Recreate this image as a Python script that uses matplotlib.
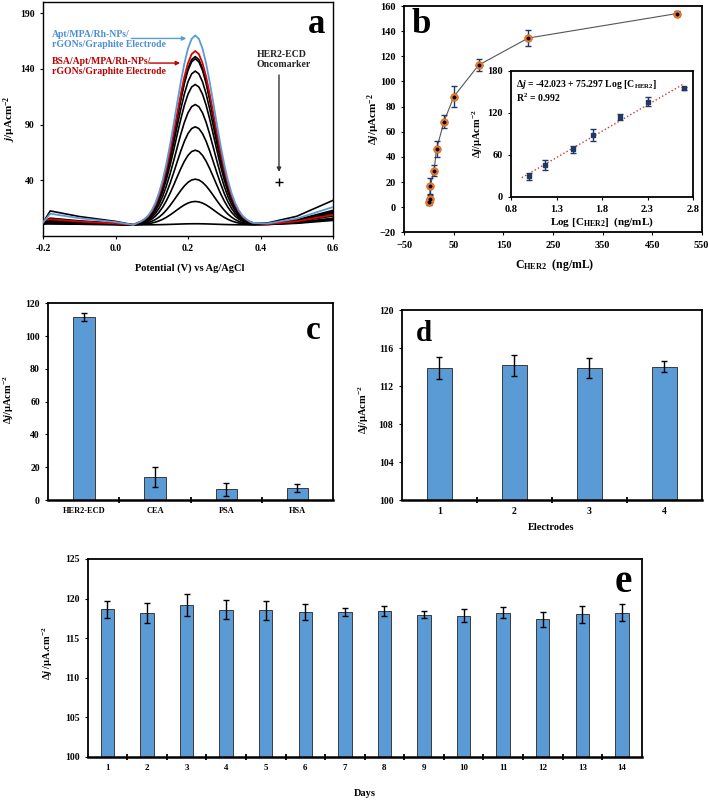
import numpy as np
import matplotlib
matplotlib.use("Agg")
import matplotlib.pyplot as plt

plt.rcParams['font.family'] = ['Liberation Serif', 'DejaVu Serif']
plt.rcParams['font.weight'] = 'bold'
plt.rcParams['axes.labelweight'] = 'bold'
plt.rcParams['mathtext.fontset'] = 'custom'
plt.rcParams['mathtext.rm'] = 'Liberation Serif:bold'
plt.rcParams['mathtext.it'] = 'Liberation Serif:bold:italic'
plt.rcParams['mathtext.bf'] = 'Liberation Serif:bold'

# ---------------- data ----------------
# panel a: DPV curves
potential = [-0.2, -0.18, -0.1, 0.0, 0.05,
             0.06, 0.07, 0.08, 0.09, 0.10, 0.11, 0.12, 0.13, 0.14, 0.15, 0.16,
             0.17, 0.18, 0.19, 0.20, 0.21, 0.22, 0.23, 0.24, 0.25, 0.26, 0.27,
             0.28, 0.29, 0.30, 0.31, 0.32, 0.33, 0.34, 0.35, 0.36, 0.37, 0.38,
             0.42, 0.5, 0.6]
peak_shape = [0, 0, 0, 0, 0,
              0.0105, 0.018, 0.031, 0.049, 0.077, 0.116, 0.169, 0.236, 0.320, 0.418, 0.527,
              0.641, 0.752, 0.852, 0.931, 0.982, 1.0, 0.982, 0.931, 0.852, 0.752, 0.641,
              0.527, 0.418, 0.320, 0.236, 0.169, 0.116, 0.077, 0.049, 0.031, 0.018, 0.0105,
              0, 0, 0]
left_shape = [0, 1.0, 0.6, 0.25, 0] + [0] * 36
start_shape = [1.0] + [0] * 40
right_shape = [0] * 38 + [0.08, 0.35, 1.0]
curve_names = ['Apt', 'BSA', 'c1', 'c2', 'c3', 'c4', 'c5', 'c6', 'c7', 'c8', 'c9', 'c10']
peak_heights = [170, 156, 151, 149, 138, 126, 108, 88, 67, 41, 21, 1]
start_values = [2, 4, 2, 3, 3, 2, 2, 1, 1, 1, 1, 1]
left_values = [10, 5, 12.5, 6, 5, 4, 3, 3, 2, 2, 1, 1]
right_values = [16, 9, 22, 13, 12, 11, 10, 9, 8, 6, 5, 4]
curve_colors = ['#5b9bd5', '#e00000'] + ['black'] * 10

# panel b: calibration
conc = [0.5, 1, 2.5, 10, 15, 30, 50, 100, 200, 500]
dj = [4.2, 6.8, 17, 29, 46, 68, 88, 113, 134.5, 154]
dj_err = [2.5, 3, 6.5, 4.5, 6.5, 5, 8.5, 5, 6.5, 2]
log_conc = [1.0, 1.176, 1.477, 1.699, 2.0, 2.301, 2.699]
dj_log = [29.4, 45.5, 67.5, 88, 114.4, 135.4, 155]
dj_log_err = [5, 7.3, 5.4, 9, 4.4, 6.4, 2]
fit_intercept = -42.023
fit_slope = 75.297
fit_range = [0.92, 2.7]

# panel c: selectivity
sel_labels = ['HER2-ECD', 'CEA', 'PSA', 'HSA']
sel_values = [111.7, 14.2, 6.5, 7.3]
sel_err = [2.3, 6, 3.8, 2.4]

# panel d: reproducibility
elec_labels = ['1', '2', '3', '4']
elec_values = [113.9, 114.2, 113.9, 114.05]
elec_err = [1.15, 1.1, 1.1, 0.55]

# panel e: stability
day_labels = ['1', '2', '3', '4', '5', '6', '7', '8', '9', '10', '11', '12', '13', '14']
day_values = [118.65, 118.15, 119.15, 118.6, 118.5, 118.3, 118.3, 118.4, 117.98,
              117.85, 118.2, 117.35, 118.0, 118.2]
day_err = [1.05, 1.3, 1.4, 1.2, 1.2, 1.05, 0.45, 0.6, 0.5, 0.8, 0.7, 1.0, 1.05, 1.05]

# ---------------- figure ----------------
W, H = 708, 802
fig = plt.figure(figsize=(W / 100, H / 100), dpi=100)


def px_axes(l, t, r, b):
    return fig.add_axes([l / W, 1 - b / H, (r - l) / W, (b - t) / H])


def style_frame(ax, lw=1.2):
    for s in ax.spines.values():
        s.set_linewidth(lw)
        s.set_color('black')


BAR = '#5b9bd5'
BAR_EDGE = '#3a3a3a'
TICK_FS = 7

# ---- panel a ----
ax = px_axes(43, 2, 333, 236)
style_frame(ax, 1.0)
pot = np.array(potential)
for i in range(len(curve_names) - 1, -1, -1):
    y = (peak_heights[i] * np.array(peak_shape) + start_values[i] * np.array(start_shape)
         + left_values[i] * np.array(left_shape) + right_values[i] * np.array(right_shape))
    ax.plot(pot, y, color=curve_colors[i], lw=1.3 if i < 2 else 1.2,
            zorder=3 if i < 2 else 2, solid_joinstyle='round')
ax.set_xlim(-0.2, 0.6)
ax.set_ylim(-10, 200)
ax.set_xticks([-0.2, 0.0, 0.2, 0.4, 0.6])
ax.set_xticklabels(['-0.2', '0.0', '0.2', '0.4', '0.6'])
ax.set_yticks([40, 90, 140, 190])
ax.tick_params(labelsize=TICK_FS, length=2.5, width=0.8, direction='out')
ax.text(-0.175, 175, 'Apt/MPA/Rh-NPs/\nrGONs/Graphite Electrode', color='#4a8fd6',
        fontsize=7, va='top', ha='left', linespacing=1.1)
ax.annotate('', xy=(0.203, 167.3), xytext=(0.036, 167.3),
            arrowprops=dict(arrowstyle='-|>', color='#5b9bd5', lw=1.0, mutation_scale=6))
ax.text(-0.175, 150.5, 'BSA/Apt/MPA/Rh-NPs/\nrGONs/Graphite Electrode', color='#c00000',
        fontsize=7, va='top', ha='left', linespacing=1.1)
ax.annotate('', xy=(0.186, 145.2), xytext=(0.086, 145.2),
            arrowprops=dict(arrowstyle='-|>', color='#c00000', lw=1.0, mutation_scale=6))
ax.text(0.389, 157, 'HER2-ECD\nOncomarker', color='#222222', fontsize=7,
        va='top', ha='left', linespacing=1.2)
ax.annotate('', xy=(0.451, 45), xytext=(0.451, 137),
            arrowprops=dict(arrowstyle='-|>', color='#333333', lw=1.0, mutation_scale=6))
ax.plot([0.451], [38.5], marker='+', color='black', ms=6, mew=1.0)
ax.text(0.555, 180, 'a', fontsize=25, ha='center', va='center')
fig.text(190 / W, 1 - 268 / H, 'Potential (V) vs Ag/AgCl', ha='center', va='center', fontsize=7.5)
fig.text(10 / W, 1 - 119 / H, '$j$/µAcm$^{-2}$', rotation=90, ha='center', va='center', fontsize=8)

# ---- panel b ----
ax = px_axes(404.3, 6, 701.7, 232.3)
style_frame(ax, 1.3)
ax.errorbar(conc, dj, yerr=dj_err, fmt='none', ecolor='#1f3864', elinewidth=1.0,
            capsize=2, capthick=1.0, zorder=2)
ax.plot(conc, dj, color='#555555', lw=0.8, zorder=1)
ax.plot(conc, dj, 'o', color='#ed7d31', ms=5.5, mec='#d06020', mew=0.5, zorder=3)
ax.plot(conc, dj, 'o', color='black', ms=1.8, zorder=4)
ax.set_xlim(-50, 550)
ax.set_ylim(-20, 160)
ax.set_xticks([-50, 50, 150, 250, 350, 450, 550])
ax.set_yticks(range(-20, 161, 20))
ax.tick_params(labelsize=7.5, length=2.5, width=0.8, direction='out')
ax.text(-15, 145, 'b', fontsize=25, ha='center', va='center')
fig.text(555 / W, 1 - 265 / H, 'C$_{\\mathrm{HER2}}$  (ng/mL)', ha='center', va='center', fontsize=8.5)
fig.text(374 / W, 1 - 119 / H, 'Δ$j$/µAcm$^{-2}$', rotation=90, ha='center', va='center', fontsize=8)

# inset
ax = px_axes(511, 70.7, 693, 196.7)
style_frame(ax, 1.3)
ax.errorbar(log_conc, dj_log, yerr=dj_log_err, fmt='s', color='#1f3864', ms=2.5,
            ecolor='#1f3864', elinewidth=1.0, capsize=2, capthick=1.0, zorder=3)
fx = np.array(fit_range)
ax.plot(fx, fit_intercept + fit_slope * fx, ':', color='#e03030', lw=1.0, zorder=2)
ax.set_xlim(0.8, 2.8)
ax.set_ylim(0, 180)
ax.set_xticks([0.8, 1.3, 1.8, 2.3, 2.8])
ax.set_yticks([0, 60, 120, 180])
ax.tick_params(labelsize=7.5, length=2.5, width=0.8, direction='out')
ax.text(0.86, 170, 'Δ$j$ = -42.023 + 75.297 Log [C$_{\\mathrm{HER2}}$]\nR$^{2}$ = 0.992',
        fontsize=7, va='top', ha='left', linespacing=1.1)
fig.text(602 / W, 1 - 222 / H, 'Log [C$_{\\mathrm{HER2}}$]  (ng/mL)', ha='center', va='center', fontsize=8)
fig.text(478 / W, 1 - 134 / H, 'Δ$j$/µAcm$^{-2}$', rotation=90, ha='center', va='center', fontsize=7.5)


def bar_panel(ax, labels, values, errs, width, ylim, yticks, label_fs):
    n = len(labels)
    x = np.arange(n)
    ax.bar(x, [v - ylim[0] for v in values], width=width, bottom=ylim[0], color=BAR,
           edgecolor=BAR_EDGE, linewidth=0.7, zorder=2)
    ax.errorbar(x, values, yerr=errs, fmt='none', ecolor='black', elinewidth=1.0,
                capsize=2, capthick=1.0, zorder=3)
    ax.set_xlim(-0.5, n - 0.5)
    ax.set_ylim(*ylim)
    ax.set_yticks(yticks)
    ax.set_xticks(np.arange(n - 1) + 0.5)
    ax.set_xticklabels([])
    ax.set_xticks(x, minor=True)
    ax.set_xticklabels(labels, minor=True)
    ax.tick_params(axis='x', which='major', direction='inout', length=5, width=1.3)
    ax.tick_params(axis='x', which='minor', length=0, labelsize=label_fs, pad=5)
    ax.tick_params(axis='y', labelsize=TICK_FS, length=2.5, width=0.8, direction='out')


# ---- panel c ----
ax = px_axes(48.3, 303.3, 333, 500)
style_frame(ax, 1.3)
ax.spines['bottom'].set_linewidth(1.8)
bar_panel(ax, sel_labels, sel_values, sel_err, 0.30, (0, 120), range(0, 121, 20), 6)
ax.text(3.22, 103.7, 'c', fontsize=24, ha='center', va='center')
fig.text(9 / W, 1 - 400 / H, 'Δ$j$/µAcm$^{-2}$', rotation=90, ha='center', va='center', fontsize=7.5)

# ---- panel d ----
ax = px_axes(401.7, 310, 701.7, 500)
style_frame(ax, 1.3)
ax.spines['bottom'].set_linewidth(1.8)
bar_panel(ax, elec_labels, elec_values, elec_err, 0.33, (100, 120), range(100, 121, 4), 7)
ax.text(-0.2, 117.5, 'd', fontsize=21, ha='center', va='center')
fig.text(551 / W, 1 - 527 / H, 'Electrodes', ha='center', va='center', fontsize=7.5)
fig.text(364 / W, 1 - 410 / H, 'Δ$j$/µAcm$^{-2}$', rotation=90, ha='center', va='center', fontsize=7.5)

# ---- panel e ----
ax = px_axes(87.7, 559, 641.7, 756.7)
style_frame(ax, 1.3)
ax.spines['bottom'].set_linewidth(1.8)
bar_panel(ax, day_labels, day_values, day_err, 0.34, (100, 125), range(100, 126, 5), 6.5)
ax.text(13.04, 122, 'e', fontsize=28, ha='center', va='center')
fig.text(365 / W, 1 - 793 / H, 'Days', ha='center', va='center', fontsize=7.5)
fig.text(48 / W, 1 - 653 / H, 'Δ$j$ /µA.cm$^{-2}$', rotation=90, ha='center', va='center', fontsize=7.5)

fig.savefig('out.png', dpi=100)
